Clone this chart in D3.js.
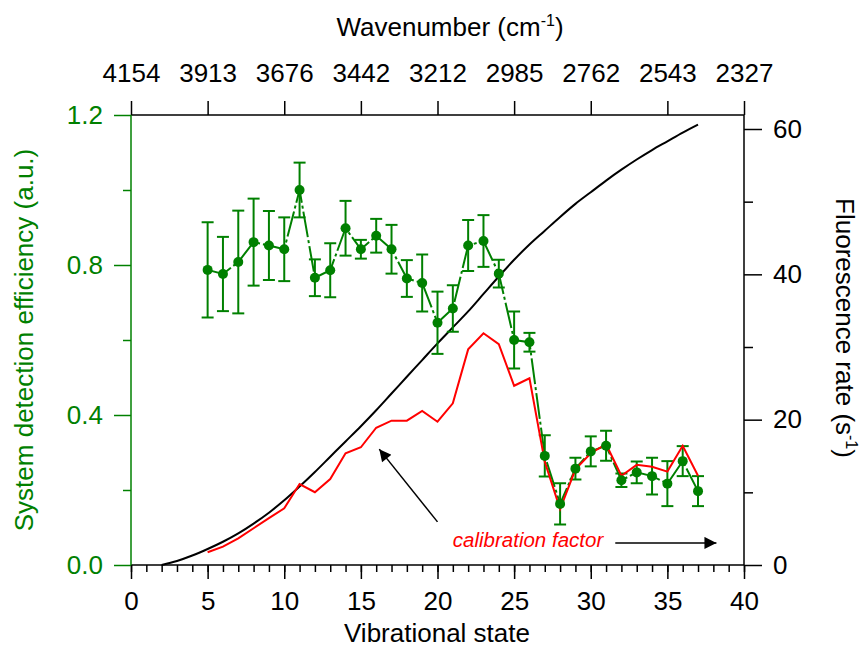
<!DOCTYPE html>
<html>
<head>
<meta charset="utf-8">
<script src="https://cdn.jsdelivr.net/npm/d3@7"></script>
<style>
body { margin:0; background:#fff; }
text { font-family: "Liberation Sans", Arial, sans-serif; }
</style>
</head>
<body>
<div id="chart"></div>
<script>
var width = 859, height = 649;

// measured detection efficiency (green points, left axis)
var vibState = [5,6,7,8,9,10,11,12,13,14,15,16,17,18,19,20,21,22,23,24,25,26,27,28,29,30,31,32,33,34,35,36,37];
var efficiency = [0.787,0.776,0.808,0.861,0.852,0.842,1.0,0.766,0.786,0.898,0.842,0.878,0.842,0.764,0.752,0.646,0.684,0.852,0.864,0.777,0.600,0.594,0.291,0.163,0.257,0.303,0.318,0.226,0.247,0.237,0.217,0.277,0.197];
var effError = [0.127,0.099,0.137,0.116,0.092,0.085,0.073,0.049,0.072,0.073,0.025,0.045,0.065,0.049,0.076,0.083,0.062,0.068,0.069,0.037,0.076,0.025,0.055,0.055,0.029,0.040,0.040,0.018,0.029,0.049,0.060,0.040,0.040];
// calibration factor (red line, left axis)
var calibration = [0.034,0.049,0.071,0.098,0.125,0.151,0.216,0.194,0.229,0.298,0.314,0.366,0.385,0.385,0.411,0.382,0.431,0.575,0.618,0.589,0.478,0.498,0.275,0.149,0.255,0.298,0.322,0.238,0.267,0.262,0.249,0.318,0.238];

// fluorescence rate (black curve, right axis)
var rateState = [2,3,4,5,6,7,8,9,10,11,12,13,14,15,16,17,18,19,20,21,22,23,24,25,26,27,28,29,30,31,32,33,34,35,36,37];
var fluorRate = [0,0.55,1.3,2.2,3.2,4.35,5.7,7.2,8.9,10.8,12.8,14.9,17.0,19.1,21.3,23.6,25.9,28.2,30.5,32.7,34.9,37.3,39.7,42.0,44.1,46.0,47.9,49.7,51.3,52.9,54.4,55.8,57.1,58.3,59.5,60.6];

// axis ticks
var bottomTicks = [0,5,10,15,20,25,30,35,40];
var bottomMinor = [0,1,2,3,4,5,6,7,8,9,10,11,12,13,14,15,16,17,18,19,20,21,22,23,24,25,26,27,28,29,30,31,32,33,34,35,36,37,38,39,40];
var topTicks = [0,5,10,15,20,25,30,35,40];
var wavenumbers = ["4154","3913","3676","3442","3212","2985","2762","2543","2327"];
var leftTicks = [0,0.4,0.8,1.2];
var leftMinor = [0.2,0.6,1.0];
var rightTicks = [0,20,40,60];
var rightMinor = [10,30,50];

// annotation arrows, in data coordinates (x state, left axis value)
var arrow1 = [[20.0,0.115],[16.2,0.309]];
var arrow2 = [[31.6,0.059],[38.2,0.059]];
var labelPos = [21.0,0.048];

var green = "#008000", red = "#ff0000";
var mLeft = 131, mRight = 744, mTop = 115, mBottom = 565;
var fs = 26;

var svg = d3.select("#chart").append("svg")
  .attr("width", width).attr("height", height)
  .style("background", "#fff");

var x = d3.scaleLinear().domain([0,40]).range([mLeft,mRight]);
var yL = d3.scaleLinear().domain([0,1.2]).range([mBottom,mTop]);
var yR = d3.scaleLinear().domain([0,60]).range([mBottom,129]);

svg.append("defs").append("marker")
  .attr("id","head").attr("viewBox","0 0 10 10")
  .attr("refX",10).attr("refY",5)
  .attr("markerWidth",18).attr("markerHeight",12)
  .attr("markerUnits","userSpaceOnUse")
  .attr("orient","auto")
  .append("path").attr("d","M0,0L10,5L0,10z").attr("fill","#000");

function styleAxis(g, col) {
  g.select(".domain").remove();
  g.selectAll(".tick line").attr("stroke", col).attr("stroke-width", 1.5);
  g.selectAll(".tick text").attr("fill", col).style("font-size", fs + "px");
}

/* bottom axis */
svg.append("g").attr("transform","translate(0,"+mBottom+")")
  .call(d3.axisBottom(x).tickValues(bottomMinor).tickSize(7).tickFormat(""))
  .call(styleAxis, "#000");
svg.append("g").attr("transform","translate(0,"+mBottom+")")
  .call(d3.axisBottom(x).tickValues(bottomTicks).tickSize(14).tickPadding(13))
  .call(styleAxis, "#000");

/* top axis */
svg.append("g").attr("transform","translate(0,"+mTop+")")
  .call(d3.axisTop(x).tickValues(topTicks).tickSize(14).tickPadding(19)
    .tickFormat(function(d,i){ return wavenumbers[i]; }))
  .call(styleAxis, "#000");

/* left axis */
svg.append("g").attr("transform","translate("+mLeft+",0)")
  .call(d3.axisLeft(yL).tickValues(leftMinor).tickSize(8).tickFormat(""))
  .call(styleAxis, green);
svg.append("g").attr("transform","translate("+mLeft+",0)")
  .call(d3.axisLeft(yL).tickValues(leftTicks).tickSize(17).tickPadding(11).tickFormat(d3.format(".1f")))
  .call(styleAxis, green);

/* right axis */
svg.append("g").attr("transform","translate("+mRight+",0)")
  .call(d3.axisRight(yR).tickValues(rightMinor).tickSize(9).tickFormat(""))
  .call(styleAxis, "#000");
svg.append("g").attr("transform","translate("+mRight+",0)")
  .call(d3.axisRight(yR).tickValues(rightTicks).tickSize(18).tickPadding(11))
  .call(styleAxis, "#000");

/* frame */
svg.append("path").attr("d","M"+mLeft+","+mTop+"H"+mRight+"V"+mBottom+"H"+mLeft)
  .attr("fill","none").attr("stroke","#000").attr("stroke-width",1.5);
svg.append("line").attr("x1",mLeft).attr("x2",mLeft).attr("y1",mTop).attr("y2",mBottom)
  .attr("stroke",green).attr("stroke-width",1.5);

/* black fluorescence curve */
var rateLine = d3.line().curve(d3.curveMonotoneX)
  .x(function(d,i){ return x(rateState[i]); })
  .y(function(d){ return yR(d); });
svg.append("path").datum(fluorRate)
  .attr("d", rateLine).attr("fill","none")
  .attr("stroke","#000").attr("stroke-width",2);

/* green efficiency */
var effLine = d3.line()
  .x(function(d,i){ return x(vibState[i]); })
  .y(function(d){ return yL(d); });
svg.append("path").datum(efficiency)
  .attr("d", effLine).attr("fill","none")
  .attr("stroke",green).attr("stroke-width",2)
  .attr("stroke-dasharray","26,3,3,3");

var bars = svg.append("g").attr("stroke",green).attr("stroke-width",2);
efficiency.forEach(function(v,i){
  var cx = x(vibState[i]), y1 = yL(v+effError[i]), y2 = yL(v-effError[i]);
  bars.append("line").attr("x1",cx).attr("x2",cx).attr("y1",y1).attr("y2",y2);
  bars.append("line").attr("x1",cx-6).attr("x2",cx+6).attr("y1",y1).attr("y2",y1);
  bars.append("line").attr("x1",cx-6).attr("x2",cx+6).attr("y1",y2).attr("y2",y2);
});

/* red calibration line */
svg.append("path").datum(calibration)
  .attr("d", effLine).attr("fill","none")
  .attr("stroke",red).attr("stroke-width",2);

svg.append("g").selectAll("circle").data(efficiency).enter()
  .append("circle")
  .attr("cx",function(d,i){ return x(vibState[i]); })
  .attr("cy",function(d){ return yL(d); })
  .attr("r",5).attr("fill",green);

/* annotation */
[arrow1, arrow2].forEach(function(a){
  svg.append("line")
    .attr("x1",x(a[0][0])).attr("y1",yL(a[0][1]))
    .attr("x2",x(a[1][0])).attr("y2",yL(a[1][1]))
    .attr("stroke","#000").attr("stroke-width",1.5)
    .attr("marker-end","url(#head)");
});
svg.append("text").attr("x",x(labelPos[0])).attr("y",yL(labelPos[1]))
  .attr("fill",red).style("font-size","20.5px").style("font-style","italic")
  .text("calibration factor");

/* titles */
var t1 = svg.append("text").attr("x",450).attr("y",36).attr("text-anchor","middle")
  .style("font-size",fs+"px").attr("fill","#000");
t1.append("tspan").text("Wavenumber (cm");
t1.append("tspan").attr("dy",-10).style("font-size","16px").text("-1");
t1.append("tspan").attr("dy",10).text(")");

svg.append("text").attr("x",437).attr("y",642).attr("text-anchor","middle")
  .style("font-size",fs+"px").attr("fill","#000").text("Vibrational state");

svg.append("text").attr("transform","translate(33,340) rotate(-90)")
  .attr("text-anchor","middle").style("font-size",fs+"px").attr("fill",green)
  .text("System detection efficiency (a.u.)");

var t2 = svg.append("text").attr("transform","translate(836,328) rotate(90)")
  .attr("text-anchor","middle").style("font-size",fs+"px").attr("fill","#000");
t2.append("tspan").text("Fluorescence rate (s");
t2.append("tspan").attr("dy",-10).style("font-size","16px").text("-1");
t2.append("tspan").attr("dy",10).text(")");
</script>
</body>
</html>
